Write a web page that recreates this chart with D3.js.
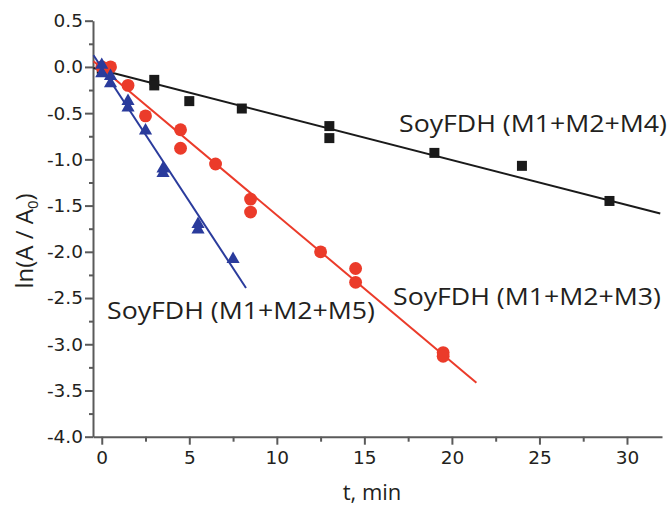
<!DOCTYPE html>
<html>
<head>
<meta charset="utf-8">
<script src="https://cdn.jsdelivr.net/npm/d3@7"></script>
<style>
    body { margin: 0; background: #fff; }
    svg { display: block; }
</style>
</head>
<body>
<svg id="chart" width="670" height="509"></svg>
<script>
// Time points (min) and ln(A/A0) values
const tM4 = [0, 3, 3, 5, 8, 13, 13, 19, 24, 29];
const yM4 = [-0.02, -0.14, -0.2, -0.37, -0.45, -0.64, -0.77, -0.93, -1.07, -1.45];

const tM3 = [0, 0.5, 1.5, 2.5, 4.5, 4.5, 6.5, 8.5, 8.5, 12.5, 14.5, 14.5, 19.5, 19.5];
const yM3 = [0, 0.0, -0.2, -0.53, -0.68, -0.88, -1.05, -1.43, -1.57, -2.0, -2.18, -2.33, -3.09, -3.13];

const tM5 = [0, 0, 0.5, 0.5, 1.5, 1.5, 2.5, 3.5, 3.5, 5.5, 5.5, 7.5];
const yM5 = [0.02, -0.07, -0.1, -0.18, -0.37, -0.44, -0.69, -1.1, -1.15, -1.7, -1.76, -2.08];

// Fitted lines as drawn: [intercept, slope], and their t range
const fitM4 = [-0.035, -0.0486];
const fitM3 = [-0.013, -0.159];
const fitM5 = [-0.01, -0.289];
const rangeM4 = [-0.47, 31.9];
const rangeM3 = [-0.47, 21.4];
const rangeM5 = [-0.47, 8.24];

// Axis ticks
const xTicks = [0, 5, 10, 15, 20, 25, 30];
const xMinorTicks = [2.5, 7.5, 12.5, 17.5, 22.5, 27.5];
const yTicks = [0.5, 0.0, -0.5, -1.0, -1.5, -2.0, -2.5, -3.0, -3.5, -4.0];
const yMinorTicks = [0.25, -0.25, -0.75, -1.25, -1.75, -2.25, -2.75, -3.25, -3.75];

// Series labels
const labels = ["SoyFDH (M1+M2+M4)", "SoyFDH (M1+M2+M3)", "SoyFDH (M1+M2+M5)"];

const svg = d3.select("#chart");

const x = d3.scaleLinear().domain([-0.5, 32]).range([93, 662]);
const y = d3.scaleLinear().domain([-4, 0.5]).range([436.7, 20.7]);

const axisColor = "#5a5a5a";
const textColor = "#231f20";
const tickFont = "'DejaVu Sans', sans-serif";
const labelFont = "'Open Sans', Lato, sans-serif";

// X axis
let gx = svg.append("g").attr("transform", "translate(0," + y(-4) + ")");
gx.call(d3.axisBottom(x).tickValues(xTicks).tickSize(8).tickSizeOuter(0).tickPadding(6));
gx.append("g").call(d3.axisBottom(x).tickValues(xMinorTicks).tickSize(5).tickSizeOuter(0).tickFormat(""))
    .select(".domain").remove();

// Y axis
const fmt = v => d3.format(".1f")(v).replace("\u2212", "-");
let gy = svg.append("g").attr("transform", "translate(" + x(-0.5) + ",0)");
gy.call(d3.axisLeft(y).tickValues(yTicks).tickSize(8).tickSizeOuter(0).tickPadding(2).tickFormat(fmt));
gy.append("g").call(d3.axisLeft(y).tickValues(yMinorTicks).tickSize(4).tickSizeOuter(0).tickFormat(""))
    .select(".domain").remove();

svg.selectAll(".domain, .tick line").attr("stroke", axisColor).attr("stroke-width", 2);
svg.selectAll(".tick text")
    .attr("fill", textColor)
    .attr("font-family", tickFont)
    .attr("font-size", "18.5px");

// Axis titles
svg.append("text")
    .attr("x", 372).attr("y", 500)
    .attr("text-anchor", "middle")
    .attr("fill", textColor)
    .attr("font-family", labelFont)
    .attr("font-size", "22px")
    .text("t, min");

let yTitle = svg.append("text")
    .attr("transform", "translate(33,241) rotate(-90)")
    .attr("text-anchor", "middle")
    .attr("fill", textColor)
    .attr("font-family", labelFont)
    .attr("font-size", "24px");
yTitle.append("tspan").text("ln(A / A");
yTitle.append("tspan").attr("font-size", "15px").attr("dy", 5).text("0");
yTitle.append("tspan").attr("dy", -5).text(")");

// Draw one series: fitted line and markers
function drawSeries(ts, ys, fit, range, color, symbol, size) {
    let line = d3.line().x(d => x(d)).y(d => y(fit[0] + fit[1] * d));
    svg.append("path")
        .datum(range)
        .attr("d", line)
        .attr("fill", "none")
        .attr("stroke", color)
        .attr("stroke-width", 2);

    svg.append("g").selectAll("path")
        .data(ts.map((t, i) => [t, ys[i]]))
        .join("path")
        .attr("transform", d => "translate(" + x(d[0]) + "," + y(d[1]) + ")")
        .attr("d", d3.symbol().type(symbol).size(size))
        .attr("fill", color);
}

drawSeries(tM4, yM4, fitM4, rangeM4, "#1a1a1a", d3.symbolSquare, 100);
drawSeries(tM3, yM3, fitM3, rangeM3, "#eb3b2a", d3.symbolCircle, 130);
drawSeries(tM5, yM5, fitM5, rangeM5, "#2a3b9c", d3.symbolTriangle, 75);

// Series labels
const labelPos = [[399, 132], [393, 305], [107, 319]];
svg.append("g").selectAll("text")
    .data(labels)
    .join("text")
    .attr("x", (d, i) => labelPos[i][0])
    .attr("y", (d, i) => labelPos[i][1])
    .attr("fill", textColor)
    .attr("font-family", labelFont)
    .attr("font-size", "23px")
    .attr("textLength", 268)
    .attr("lengthAdjust", "spacingAndGlyphs")
    .text(d => d);
</script>
</body>
</html>
